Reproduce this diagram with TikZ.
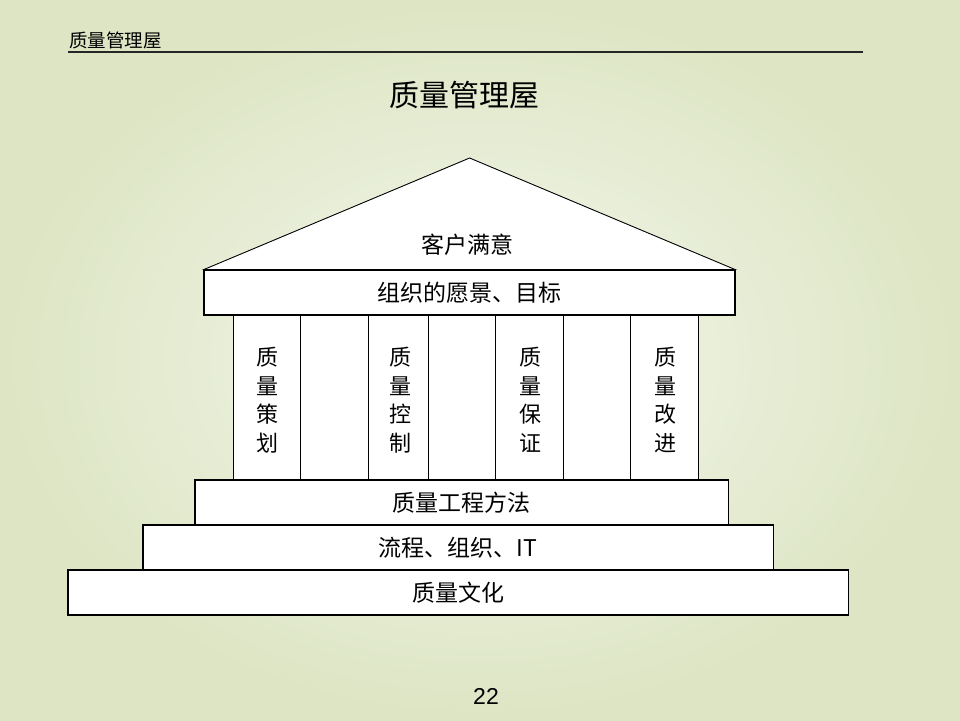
\documentclass[tikz,border=0pt]{standalone}
\usepackage{fontspec}
\setmainfont{Liberation Sans}
\newfontfamily\cjk{Noto Sans CJK SC}
\definecolor{bgin}{HTML}{F4F8EC}
\definecolor{bgout}{HTML}{DDE5C4}
\tikzset{
  box/.style={draw, fill=white, line width=1.2pt},
  txt/.style={font=\cjk\fontsize{23}{28.5}\selectfont, inner sep=0pt},
  col/.style={txt, align=center, font=\cjk\fontsize{22}{28.5}\selectfont}
}
\begin{document}
\begin{tikzpicture}[x=1pt, y=-1pt]
  \useasboundingbox (0,0) rectangle (960,720);
  %Hintergrund
  \shade[inner color=bgin, outer color=bgout] (0,0) rectangle (960,720);
  %Kopfzeile
  \node[txt, anchor=west, font=\cjk\fontsize{18.5}{20}\selectfont] (kopf) at (69,40) {质量管理屋};
  \draw[line width=1.6pt, black!85] (68,52) -- (863,52);
  \node[txt, font=\cjk\fontsize{30}{32}\selectfont] (titel) at (464,95) {质量管理屋};
  %Dach
  \draw[box, line width=0.9pt] (204,269.5) -- (469.6,158) -- (735,269.5) -- cycle;
  \node[txt] (kunde) at (467,245) {客户满意};
  %Balken
  \draw[box] (204,270) rectangle (735,315);
  \node[txt] (vision) at (469,293) {组织的愿景、目标};
  %Saeulen
  \foreach \a/\b in {233.6/300.7, 300.7/368.6, 368.6/428.6, 428.6/495.7,
                     495.7/563.6, 563.6/630.7, 630.7/698.6}
    \draw[box] (\a,315) rectangle (\b,481);
    \node[col] (planung) at (267,400) {质\\量\\策\\划};
    \node[col] (lenkung) at (400,400) {质\\量\\控\\制};
    \node[col] (sicherung) at (530,400) {质\\量\\保\\证};
    \node[col] (verbesserung) at (665,400) {质\\量\\改\\进};
  %Stufen
  \draw[box] (68,570) rectangle (848.7,615);
  \node[txt] (kultur) at (458,593) {质量文化};
  \draw[box] (143,525) rectangle (773.5,570);
  \node[txt] (prozess) at (458,548) {流程、组织、IT};
  \draw[box] (195,480) rectangle (728.6,525);
  \node[txt] (methode) at (461,503) {质量工程方法};
  %Seitenzahl
  \node[inner sep=0pt, font=\fontsize{23}{26}\selectfont] (seite) at (486,696) {22};
\end{tikzpicture}
\end{document}
